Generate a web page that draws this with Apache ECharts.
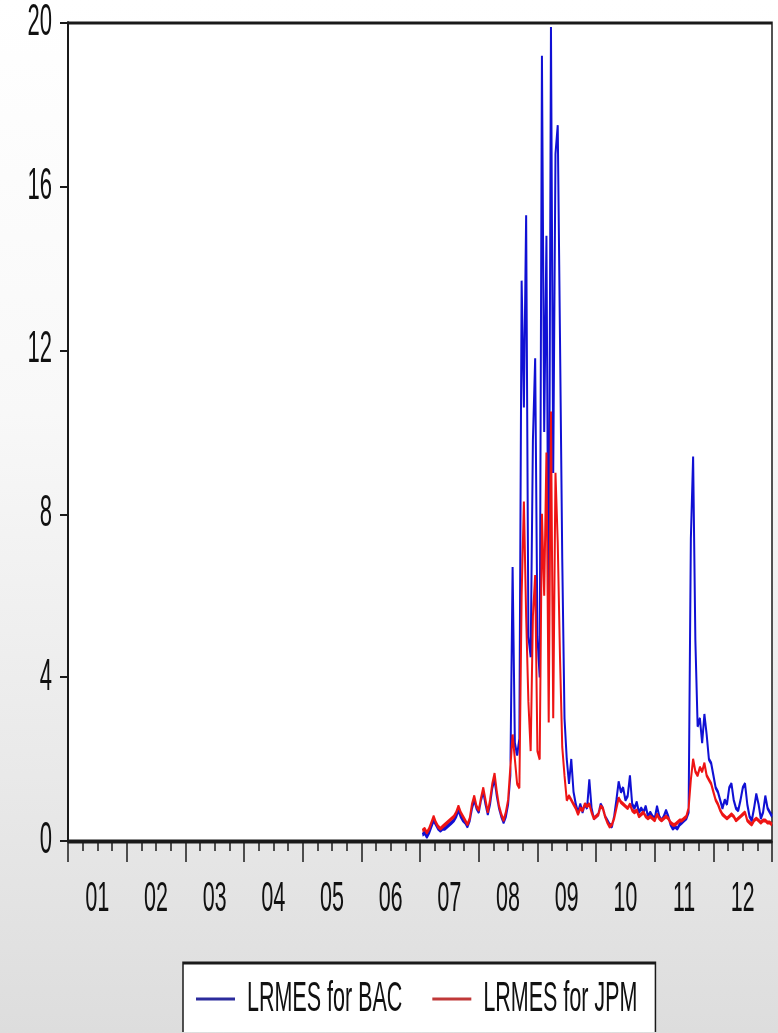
<!DOCTYPE html>
<html>
<head>
<meta charset="utf-8">
<script src="https://cdn.jsdelivr.net/npm/echarts@6/dist/echarts.min.js"></script>
<style>
  html, body { margin: 0; padding: 0; }
  body {
    width: 778px; height: 1033px; overflow: hidden;
    background: linear-gradient(to bottom, #ffffff 0%, #f8f8f8 40%, #e9e9e9 75%, #dddddd 100%);
  }
  /* the reference is stretched vertically (narrow, tall glyphs), so the chart
     is laid out at half height and stretched back */
  #chart { width: 778px; height: 516px; transform: scaleY(2); transform-origin: 0 0; }
</style>
</head>
<body>
<div id="chart"></div>
<script>
// SERIES: one point every two weeks (1/26 of a year), starting Jan 2007
const startYear = 2007.04;
const pointsPerYear = 26;

const bacValues = [
    0.15, 0.2, 0.1, 0.2, 0.35, 0.5, 0.4, 0.3, 0.25, 0.3, 0.3, 0.35, 0.4, 0.45, 0.5, 0.6, 0.75, 0.6, 0.5, 0.45, 0.35, 0.5, 0.8, 1.0, 0.8, 0.7,
    1.0, 1.2, 0.9, 0.65, 0.9, 1.3, 1.5, 1.1, 0.8, 0.6, 0.45, 0.6, 0.9, 1.6, 6.7, 2.4, 2.1, 2.5, 13.7, 10.6, 15.3, 5.0, 4.5, 9.8, 11.8, 5.0,
    4.0, 19.2, 10.0, 14.8, 4.5, 19.9, 9.0, 16.8, 17.5, 12.3, 6.9, 3.0, 2.0, 1.4, 2.0, 1.2, 0.9, 0.7, 0.9, 0.7, 0.9, 0.8, 1.5, 0.8, 0.55, 0.6,
    0.65, 0.9, 0.8, 0.6, 0.5, 0.4, 0.35, 0.6, 1.0, 1.45, 1.2, 1.3, 1.0, 1.1, 1.6, 0.9, 0.8, 0.95, 0.7, 0.8, 0.7, 0.85, 0.6, 0.7, 0.6, 0.55,
    0.85, 0.6, 0.5, 0.6, 0.75, 0.6, 0.4, 0.3, 0.35, 0.3, 0.4, 0.45, 0.5, 0.55, 0.7, 7.4, 9.4, 4.9, 2.8, 3.0, 2.4, 3.1, 2.6, 2.0, 1.9, 1.6,
    1.3, 1.2, 1.0, 0.8, 1.0, 0.9, 1.3, 1.4, 1.0, 0.8, 0.75, 1.0, 1.3, 1.4, 0.9, 0.6, 0.5, 0.8, 1.15, 0.9, 0.55, 0.7, 1.1, 0.8, 0.7, 0.6
];

const jpmValues = [
    0.25, 0.3, 0.2, 0.3, 0.45, 0.6, 0.45, 0.35, 0.3, 0.35, 0.4, 0.45, 0.5, 0.55, 0.6, 0.7, 0.85, 0.7, 0.6, 0.5, 0.4, 0.55, 0.9, 1.1, 0.85, 0.75,
    1.05, 1.3, 1.0, 0.7, 1.0, 1.4, 1.65, 1.2, 0.85, 0.65, 0.5, 0.7, 1.0, 1.8, 2.6, 2.0, 1.4, 1.3, 6.0, 8.3, 5.5, 3.4, 2.2, 5.5, 6.5, 2.2,
    2.0, 8.0, 6.0, 9.5, 2.9, 10.5, 3.0, 9.0, 7.3, 4.5, 2.3, 1.6, 1.0, 1.1, 1.0, 0.9, 0.8, 0.65, 0.8, 0.75, 0.9, 0.85, 0.9, 0.7, 0.55, 0.6,
    0.65, 0.85, 0.8, 0.6, 0.45, 0.35, 0.4, 0.55, 0.8, 1.05, 0.95, 0.9, 0.85, 0.8, 0.9, 0.75, 0.7, 0.75, 0.6, 0.65, 0.7, 0.6, 0.55, 0.6, 0.55, 0.5,
    0.65, 0.55, 0.5, 0.55, 0.6, 0.55, 0.45, 0.4, 0.4, 0.45, 0.5, 0.5, 0.55, 0.6, 0.8, 1.5, 2.0, 1.7, 1.6, 1.8, 1.7, 1.9, 1.6, 1.5, 1.4, 1.2,
    1.0, 0.9, 0.75, 0.65, 0.6, 0.55, 0.6, 0.65, 0.6, 0.5, 0.55, 0.6, 0.65, 0.7, 0.5, 0.45, 0.4, 0.5, 0.55, 0.5, 0.45, 0.5, 0.5, 0.45, 0.45, 0.4
];

const seriesNames = ['LRMES for BAC', 'LRMES for JPM'];
const seriesColors = ['#1010d4', '#ee1414'];
const legendColors = ['#2b2b9c', '#c03838'];
const yTicks = [0, 4, 8, 12, 16, 20];

const fontFamily = "'Liberation Sans', Arial, sans-serif";

const toPairs = (values) => values.map((v, i) => [startYear + i / pointsPerYear, v]);

const chart = echarts.init(document.getElementById('chart'), null, { renderer: 'canvas', devicePixelRatio: 2 });

const option = {
    animation: false,
    backgroundColor: 'transparent',
    grid: {
        left: 68,
        right: 6,
        top: 11.5,
        bottom: 95.5,
        show: true,
        backgroundColor: '#ffffff',
        borderColor: '#1a1a1a',
        borderWidth: 1.5
    },
    legend: {
        left: 183,
        top: 481.5,
        padding: [7, 18, 30, 13],
        itemGap: 30,
        itemWidth: 39,
        itemHeight: 1.5,
        icon: 'rect',
        backgroundColor: '#ffffff',
        borderColor: '#1a1a1a',
        borderWidth: 1.5,
        textStyle: { fontFamily: fontFamily, fontSize: 21.5, lineHeight: 22, color: '#111', padding: [0, 0, 0, 7] },
        data: seriesNames.map((name, i) => ({ name: name, itemStyle: { color: legendColors[i] } }))
    },
    xAxis: [
        {
            type: 'value',
            position: 'bottom',
            min: 2001,
            max: 2013,
            interval: 0.25,
            axisLine: { lineStyle: { color: '#1a1a1a', width: 1.5 } },
            axisTick: { length: 5, lineStyle: { color: '#1a1a1a', width: 1.5 } },
            splitLine: { show: false },
            axisLabel: {
                margin: 18,
                fontFamily: fontFamily,
                fontSize: 21.5,
                color: '#111',
                formatter: function (value) {
                    if (Math.abs(value % 1 - 0.5) > 1e-6) return '';
                    return String(Math.floor(value) % 100).padStart(2, '0');
                }
            }
        },
        {
            type: 'value',
            position: 'bottom',
            min: 2001,
            max: 2013,
            interval: 1,
            axisLine: { show: false },
            axisTick: { length: 10.5, lineStyle: { color: '#1a1a1a', width: 1.5 } },
            axisLabel: { show: false },
            splitLine: { show: false }
        }
    ],
    yAxis: {
        type: 'value',
        min: yTicks[0],
        max: yTicks[yTicks.length - 1],
        interval: 4,
        axisLine: { show: true, lineStyle: { color: '#1a1a1a', width: 2 } },
        axisTick: { show: true, length: 8, lineStyle: { color: '#1a1a1a', width: 1 } },
        splitLine: { show: false },
        axisLabel: {
            margin: 16,
            fontFamily: fontFamily,
            fontSize: 22,
            color: '#111'
        }
    },
    series: [
        {
            name: seriesNames[0],
            type: 'line',
            xAxisIndex: 0,
            symbol: 'none',
            lineStyle: { color: seriesColors[0], width: 2 },
            itemStyle: { color: seriesColors[0] },
            data: toPairs(bacValues)
        },
        {
            name: seriesNames[1],
            type: 'line',
            xAxisIndex: 0,
            symbol: 'none',
            lineStyle: { color: seriesColors[1], width: 2 },
            itemStyle: { color: seriesColors[1] },
            data: toPairs(jpmValues)
        }
    ]
};

chart.setOption(option);
</script>
</body>
</html>
